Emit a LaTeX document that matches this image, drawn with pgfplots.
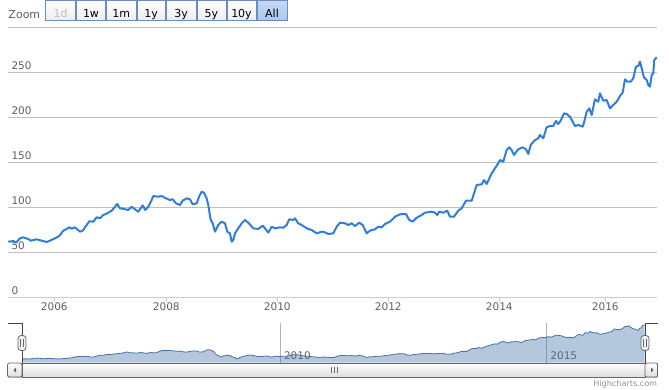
\documentclass[border=0pt]{standalone}
\usepackage{pgfplots}
\pgfplotsset{compat=1.18}
\usepackage{pgfplotstable}
\usepackage{fontspec}
\setmainfont{DejaVu Sans}
\definecolor{gridgray}{HTML}{C0C0C0}
\definecolor{axisblue}{HTML}{C0D0E0}
\definecolor{linecol}{HTML}{2F7ED8}
\definecolor{labgray}{HTML}{606060}
\definecolor{navblue}{HTML}{4572A7}
\definecolor{btnborder}{HTML}{6C8CBC}
\definecolor{allfill}{HTML}{ACC6EC}
\definecolor{darkgr}{HTML}{666666}
\definecolor{outl}{HTML}{444444}

\pgfplotstableread{
x y
2005.153 61.4
2005.243 62.2
2005.292 60.4
2005.364 65.2
2005.423 66.3
2005.514 64.4
2005.557 62.6
2005.665 64.1
2005.755 62.6
2005.845 61.1
2005.904 62.6
2005.995 65.2
2006.072 67.8
2006.144 73.7
2006.205 75.6
2006.252 77.4
2006.296 75.9
2006.355 77.4
2006.445 72.6
2006.494 73.7
2006.566 80.0
2006.613 84.1
2006.685 83.7
2006.746 88.6
2006.805 87.4
2006.865 91.1
2006.937 93.0
2007.016 95.9
2007.076 100.3
2007.117 103.3
2007.166 98.6
2007.238 97.8
2007.315 96.7
2007.377 100.3
2007.436 97.4
2007.496 94.8
2007.575 101.9
2007.622 96.7
2007.676 100.3
2007.737 107.8
2007.766 112.2
2007.856 111.4
2007.917 112.2
2007.995 109.6
2008.067 107.8
2008.115 108.6
2008.175 104.1
2008.247 102.2
2008.295 107.0
2008.368 109.6
2008.427 108.6
2008.476 103.0
2008.548 104.1
2008.595 112.2
2008.638 117.0
2008.679 115.9
2008.728 109.6
2008.757 102.2
2008.800 85.6
2008.836 81.9
2008.878 72.6
2008.937 80.0
2008.998 83.7
2009.058 81.9
2009.099 72.6
2009.148 70.7
2009.178 61.4
2009.207 63.3
2009.238 70.7
2009.297 76.3
2009.359 81.9
2009.418 85.6
2009.478 82.6
2009.568 76.3
2009.658 75.6
2009.737 79.3
2009.778 76.3
2009.838 71.5
2009.899 78.1
2009.959 76.3
2010.049 77.4
2010.108 77.0
2010.169 80.0
2010.216 86.3
2010.288 85.6
2010.319 87.4
2010.378 81.9
2010.440 80.0
2010.530 76.3
2010.620 74.4
2010.710 70.7
2010.800 72.6
2010.859 71.9
2010.919 70.0
2011.009 70.7
2011.070 78.1
2011.130 82.6
2011.220 81.9
2011.279 80.0
2011.341 81.9
2011.400 78.9
2011.478 82.6
2011.539 80.0
2011.611 70.7
2011.670 73.7
2011.760 75.2
2011.820 78.1
2011.881 77.4
2011.941 81.1
2012.031 83.7
2012.121 89.2
2012.211 91.9
2012.319 92.2
2012.378 85.6
2012.440 83.7
2012.512 88.1
2012.602 91.1
2012.661 93.7
2012.782 94.8
2012.841 93.7
2012.883 91.1
2012.919 94.8
2012.991 93.7
2013.063 95.9
2013.112 89.2
2013.184 89.2
2013.261 95.9
2013.323 98.6
2013.400 107.0
2013.503 107.0
2013.593 124.4
2013.683 125.2
2013.724 130.0
2013.773 125.6
2013.863 137.4
2013.923 143.0
2013.982 148.5
2014.013 152.2
2014.072 150.4
2014.133 163.3
2014.180 166.3
2014.223 163.3
2014.265 157.8
2014.342 164.1
2014.422 166.3
2014.481 164.1
2014.523 158.9
2014.566 168.9
2014.643 174.4
2014.703 176.3
2014.733 180.0
2014.793 176.3
2014.854 188.6
2014.914 190.0
2014.973 190.0
2015.022 195.6
2015.063 192.2
2015.106 195.9
2015.166 204.1
2015.214 203.3
2015.274 200.4
2015.364 190.0
2015.423 191.1
2015.503 189.3
2015.526 193.7
2015.575 205.9
2015.622 209.6
2015.665 202.2
2015.724 219.6
2015.784 217.0
2015.814 226.3
2015.874 218.1
2015.935 218.9
2015.995 209.6
2016.054 213.3
2016.115 217.0
2016.175 223.3
2016.223 227.0
2016.265 241.9
2016.306 239.2
2016.368 239.2
2016.414 243.0
2016.463 255.9
2016.504 256.7
2016.535 261.5
2016.566 254.1
2016.607 244.1
2016.656 241.1
2016.685 235.6
2016.715 233.7
2016.746 246.7
2016.775 248.5
2016.793 263.3
2016.836 266.3
}\stock

\begin{document}
\begin{tikzpicture}
\useasboundingbox (0pt,0pt) rectangle (669pt,-389pt);

% main chart
\begin{axis}[
  at={(8pt,-297pt)}, anchor=south west,
  width=649pt, height=270pt, scale only axis,
  xmin=2005.148, xmax=2016.842, ymin=0, ymax=300,
  axis x line*=bottom, axis y line*=left,
  x axis line style={draw=axisblue, line width=1pt},
  y axis line style={draw=none},
  xtick={2005.982,2008,2010,2012,2014,2015.910},
  xticklabels={2006,2008,2010,2012,2014,2016},
  xtick align=outside,
  xtick style={draw=axisblue, line width=1pt},
  major tick length=5pt,
  ytick={50,100,150,200,250,300},
  yticklabels={50,100,150,200,250,{}},
  ytick style={draw=none},
  extra y ticks={0}, extra y tick labels={0},
  extra y tick style={grid=none},
  ymajorgrids,
  grid style={draw=gridgray, line width=1pt},
  tick label style={font=\fontsize{10.5}{12}\selectfont, text=labgray},
  yticklabel style={anchor=base west, xshift=0pt, yshift=2.5pt},
  xticklabel style={anchor=base, yshift=-8pt},
]
\addplot[color=linecol, line width=2pt, line join=round] table {\stock};
\end{axis}

% navigator
\begin{axis}[
  at={(22pt,-362.7pt)}, anchor=south west,
  width=623pt, height=39.4pt, scale only axis,
  xmin=2005.148, xmax=2016.842, ymin=38.7, ymax=276,
  axis line style={draw=none},
  ytick=\empty,
  xtick={2010,2015}, xticklabels={2010,2015},
  major tick length=0pt,
  xmajorgrids,
  grid style={draw=gray!60, line width=0.8pt},
  xticklabel style={anchor=base west, xshift=0pt, yshift=3.7pt,
    font=\fontsize{10.5}{12}\selectfont, text=labgray},
]
\addplot[draw=none, fill=navblue, fill opacity=0.4] table {\stock} \closedcycle;
\addplot[color=navblue, line width=0.8pt] table {\stock};
\end{axis}

\begin{scope}[x=1pt,y=-1pt]
% range selector
\node[anchor=base west, inner sep=0, text=labgray, font=\fontsize{11}{13}\selectfont] at (8.3,18) {Zoom};
\foreach \a/\b/\t in {76.5/105.5/1w,106.5/136/1m,137/165.5/1y,166.5/196/3y,197/226/5y,227/256/10y}{
  \draw[btnborder, top color=white, bottom color=black!7, line width=0.8pt] (\a,0.8) rectangle (\b,20);
  \node[anchor=base, inner sep=0, font=\fontsize{11}{13}\selectfont] at ({(\a+\b)/2},17) {\t};
}
\draw[btnborder, top color=white, bottom color=black!7, line width=0.8pt] (45.5,0.8) rectangle (75.5,20);
\node[anchor=base, inner sep=0, text=black!25, font=\fontsize{11}{13}\selectfont] at (60.5,17) {1d};
\draw[btnborder, top color=allfill!70, bottom color=allfill, line width=0.8pt] (257,0.8) rectangle (287,20);
\node[anchor=base, inner sep=0, font=\fontsize{11}{13}\selectfont] at (272,17) {All};

% navigator outline
\draw[outl, line width=1pt] (7.5,323.5) -- (22,323.5) -- (22,363);
\draw[outl, line width=1pt] (645,363) -- (645,323.5) -- (657.5,323.5);

% scrollbar
\draw[draw=black!20, top color=black!7, bottom color=white] (8,363) rectangle (657,377);
\draw[darkgr, top color=white, bottom color=black!13, line width=0.8pt] (22,363) rectangle (645,377);
\draw[darkgr, line width=0.8pt] (331,367) -- (331,373) (334,367) -- (334,373) (337,367) -- (337,373);
\draw[darkgr, rounded corners=2pt, top color=white, bottom color=black!13, line width=0.8pt] (7.5,363) rectangle (22,377);
\fill[darkgr] (13.5,370) -- (16,367.5) -- (16,372.5) -- cycle;
\draw[darkgr, rounded corners=2pt, top color=white, bottom color=black!13, line width=0.8pt] (645,363) rectangle (657.5,377);
\fill[darkgr] (653.5,370) -- (651,367.5) -- (651,372.5) -- cycle;

% handles
\foreach \h in {22,645}{
  \draw[darkgr, fill=black!6, rounded corners=3pt, line width=0.8pt] ({\h-4},335.5) rectangle ({\h+4},350.5);
  \draw[darkgr, line width=0.7pt] ({\h-1.2},339) -- ({\h-1.2},347) ({\h+1.2},339) -- ({\h+1.2},347);
}

% credits
\node[anchor=base east, inner sep=0, text=black!43, font=\fontsize{8.1}{10}\selectfont] at (657.3,386.5) {Highcharts.com};
\end{scope}
\end{tikzpicture}
\end{document}
